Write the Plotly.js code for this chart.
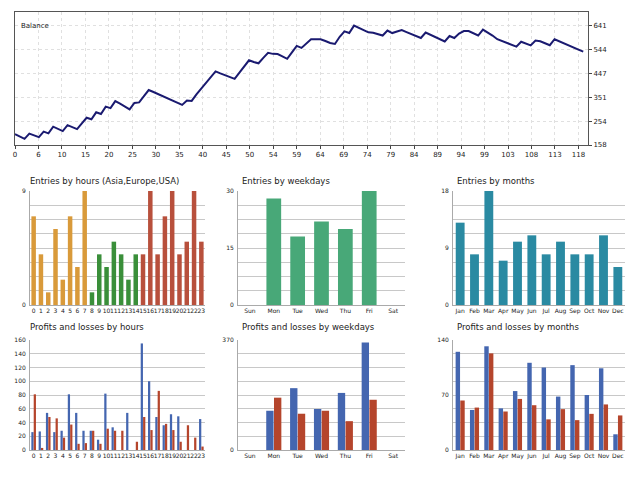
<!DOCTYPE html><html><head><script src="https://cdn.plot.ly/plotly-3.0.1.min.js"></script>
<style>body{margin:0}#c{width:640px;height:480px}</style></head><body><div id="c"></div><script>
const balance=[202,193,183,204,197,190,212,205,232,222,214,238,230,222,245,268,262,290,283,313,307,335,325,314,302,328,330,355,380,372,363,355,346,338,329,320,338,336,362,385,408,432,455,447,439,431,425,450,475,500,493,488,510,530,526,525,516,506,532,558,550,568,585,585,585,578,570,566,595,617,610,640,631,622,613,611,604,600,620,610,616,622,614,606,598,590,612,603,594,585,576,598,590,608,618,618,609,600,624,613,600,585,578,572,563,555,575,568,560,580,577,569,561,585,576,567,559,551,543,535];
const balTickText=['0','6','10','15','20','25','30','35','40','45','50','54','59','64','69','74','79','84','89','94','99','103','108','113','118'];
const balYTicks=[158,254,351,447,544,641];
const hours=Array.from({length:24},(_,i)=>String(i));
const hourEntries=[7,4,1,6,2,7,3,9,1,4,3,5,4,2,4,4,9,4,7,9,4,5,9,5];
const days=['Sun','Mon','Tue','Wed','Thu','Fri','Sat'];
const dayEntries=[0,28,18,22,20,30,0];
const months=['Jan','Feb','Mar','Apr','May','Jun','Jul','Aug','Sep','Oct','Nov','Dec'];
const monthEntries=[13,8,18,7,10,11,8,10,8,8,11,6];
const hourProfit=[26,27,54,26,28,81,54,28,28,15,82,33,0,54,0,155,100,48,36,52,49,0,0,45];
const hourLoss=[81,3,48,46,18,37,9,10,28,9,31,28,28,0,12,48,29,86,38,29,12,36,18,5];
const dayProfit=[0,132,208,138,192,362,0];
const dayLoss=[0,176,122,132,97,169,0];
const monthProfit=[125,51,132,53,75,111,105,68,108,70,104,20];
const monthLoss=[63,54,123,49,65,57,39,52,38,46,58,44];

const W=640,H=480;
const dx=(a,b)=>[a/W,b/W], dy=(t,b)=>[1-b/H,1-t/H];
const BLUE='#4466b0',RED='#b5452c';
const hourColors=hours.map((h,i)=>i<8?'#d99a3a':i<15?'#3a8f3a':'#b8503c');
const traces=[
 {x:balance.map((_,i)=>i),y:balance,type:'scatter',mode:'lines',line:{color:'#1a1a70',width:2},xaxis:'x',yaxis:'y'},
 {x:hours,y:hourEntries,type:'bar',marker:{color:hourColors},xaxis:'x2',yaxis:'y2'},
 {x:days,y:dayEntries,type:'bar',marker:{color:'#48a878'},xaxis:'x3',yaxis:'y3'},
 {x:months,y:monthEntries,type:'bar',marker:{color:'#2a8aa2'},xaxis:'x4',yaxis:'y4'},
 {x:hours,y:hourProfit,type:'bar',marker:{color:BLUE},xaxis:'x5',yaxis:'y5'},
 {x:hours,y:hourLoss,type:'bar',marker:{color:RED},xaxis:'x5',yaxis:'y5'},
 {x:days,y:dayProfit,type:'bar',marker:{color:BLUE},xaxis:'x6',yaxis:'y6'},
 {x:days,y:dayLoss,type:'bar',marker:{color:RED},xaxis:'x6',yaxis:'y6'},
 {x:months,y:monthProfit,type:'bar',marker:{color:BLUE},xaxis:'x7',yaxis:'y7'},
 {x:months,y:monthLoss,type:'bar',marker:{color:RED},xaxis:'x7',yaxis:'y7'}
];
const f={family:'DejaVu Sans',size:7,color:'#222'};
const fs={family:'DejaVu Sans',size:6,color:'#222'};
function catX(dom,anchor){return {domain:dom,anchor:anchor,type:'category',showgrid:false,tickfont:fs,tickangle:0,dtick:1,ticks:'',showline:true,linecolor:'#aaa',fixedrange:true};}
function valY(dom,anchor,max,labels){const tv=[];for(let i=0;i<=8;i++)tv.push(max*i/8);
 const show=i=>labels==='all'||(labels==='ends'?(i===0||i===8):i%4===0);
 return {domain:dom,anchor:anchor,range:[0,max],tickvals:tv,ticktext:tv.map((v,i)=>show(i)?String(Math.round(v)):''),gridcolor:'#c8c8c8',tickfont:fs,showline:true,linecolor:'#aaa',zeroline:false,ticklen:2,ticks:'outside',tickcolor:'#fff'};}
const r1=dy(191,305), r2=dy(340,450);
const c1=dx(30,205),c2=dx(238,405),c3=dx(453,625);
const layout={width:W,height:H,margin:{l:0,r:0,t:0,b:0},showlegend:false,paper_bgcolor:'#fff',plot_bgcolor:'#fff',bargap:0.35,bargroupgap:0.05,barmode:'group',
 font:f,
 xaxis:{domain:dx(15,588),anchor:'y',range:[0,120],tickvals:balTickText.map((_,k)=>k*118/24),ticktext:balTickText,gridcolor:'#e0e0e0',griddash:'dot',tickfont:f,showline:true,mirror:true,linecolor:'#555',ticks:'outside',ticklen:3,zeroline:false},
 yaxis:{domain:dy(12,145),anchor:'x',side:'right',range:[158,695],tickvals:balYTicks,gridcolor:'#e0e0e0',griddash:'dot',tickfont:f,showline:true,mirror:true,linecolor:'#555',ticks:'outside',ticklen:3,zeroline:false},
 xaxis2:catX(c1,'y2'),yaxis2:valY(r1,'x2',9,'ends'),
 xaxis3:catX(c2,'y3'),yaxis3:valY(r1,'x3',30),
 xaxis4:catX(c3,'y4'),yaxis4:valY(r1,'x4',18),
 xaxis5:catX(c1,'y5'),yaxis5:valY(r2,'x5',160,'all'),
 xaxis6:catX(c2,'y6'),yaxis6:valY(r2,'x6',370,'ends'),
 xaxis7:catX(c3,'y7'),yaxis7:valY(r2,'x7',140),
 annotations:[
  {text:'Balance',x:19/W,y:1-20/H,xref:'paper',yref:'paper',showarrow:false,xanchor:'left',font:{family:'DejaVu Sans',size:7,color:'#222'}},
  ...[['Entries by hours (Asia,Europe,USA)',28,181],['Entries by weekdays',240,181],['Entries by months',455,181],['Profits and losses by hours',28,327],['Profits and losses by weekdays',240,327],['Profits and losses by months',455,327]].map(a=>({text:a[0],x:a[1]/W,y:1-a[2]/H,xref:'paper',yref:'paper',showarrow:false,xanchor:'left',yanchor:'middle',font:{family:'DejaVu Sans',size:8.5,color:'#222'}}))
 ]};
Plotly.newPlot('c',traces,layout,{staticPlot:true});
</script></body></html>
